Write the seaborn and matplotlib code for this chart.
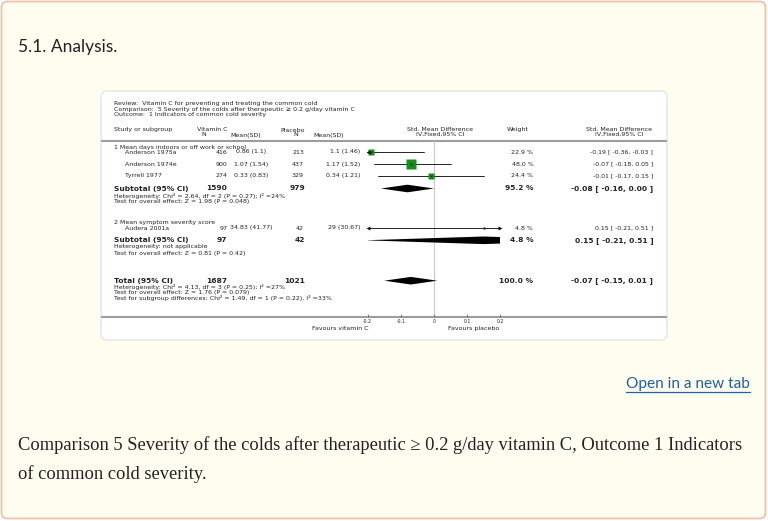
import matplotlib
matplotlib.use('Agg')
import matplotlib.pyplot as plt
from matplotlib.patches import FancyBboxPatch
import seaborn as sns

# study level data
studies = ['Anderson 1975a', 'Anderson 1974e', 'Tyrrell 1977', 'Audera 2001a']
study_group = [0, 0, 0, 1]
vitc_n = [416, 900, 274, 97]
vitc_mean = [0.86, 1.07, 0.33, 34.83]
vitc_sd = [1.1, 1.54, 0.83, 41.77]
plac_n = [213, 437, 329, 42]
plac_mean = [1.1, 1.17, 0.34, 29]
plac_sd = [1.46, 1.52, 1.21, 30.67]
weights = [22.9, 48.0, 24.4, 4.8]
smd = [-0.19, -0.07, -0.01, 0.15]
ci_low = [-0.36, -0.18, -0.17, -0.21]
ci_high = [-0.03, 0.05, 0.15, 0.51]

# subgroups
groups = ['1 Mean days indoors or off work or school', '2 Mean symptom severity score']
group_vitc_n = [1590, 97]
group_plac_n = [979, 42]
group_weight = [95.2, 4.8]
group_smd = [-0.08, 0.15]
group_low = [-0.16, -0.21]
group_high = [0.00, 0.51]
group_het = ['Heterogeneity: Chi\u00b2 = 2.64, df = 2 (P = 0.27); I\u00b2 =24%',
             'Heterogeneity: not applicable']
group_test = ['Test for overall effect: Z = 1.98 (P = 0.048)',
              'Test for overall effect: Z = 0.81 (P = 0.42)']

# overall
total_vitc_n = 1687
total_plac_n = 1021
total_weight = 100.0
total_smd = -0.07
total_low = -0.15
total_high = 0.01
total_notes = ['Heterogeneity: Chi\u00b2 = 4.13, df = 3 (P = 0.25); I\u00b2 =27%',
               'Test for overall effect: Z = 1.76 (P = 0.079)',
               'Test for subgroup differences: Chi\u00b2 = 1.49, df = 1 (P = 0.22), I\u00b2 =33%']

x_ticks = [-0.2, -0.1, 0, 0.1, 0.2]
x_tick_labels = ['-0.2', '-0.1', '0', '0.1', '0.2']

header_lines = ['Review:  Vitamin C for preventing and treating the common cold',
                'Comparison:  5 Severity of the colds after therapeutic \u2265 0.2 g/day vitamin C',
                'Outcome:  1 Indicators of common cold severity']
caption_lines = ['Comparison 5 Severity of the colds after therapeutic \u2265 0.2 g/day vitamin C, Outcome 1 Indicators',
                 'of common cold severity.']

# layout (page pixels)
W, H = 768, 521
study_y = [152, 164.3, 175.8, 228.0]
group_label_y = [147.3, 222.3]
group_y = [188.5, 240.3]
group_het_y = [195.7, 246.8]
group_test_y = [201.2, 253.5]
total_y = 280.7
total_notes_y = [286.7, 292.3, 297.7]
plot_x0, plot_x1 = 367.7, 500.3
plot_top, plot_bottom = 141, 317

FS = 4.5
FS_BOLD = 5.4
TXT = '#222222'
SQUARE_GREEN = '#1a8c1a'


def main():
    sns.set_theme(style='white')
    plt.rcParams['font.family'] = ['DejaVu Sans']
    plt.rcParams['axes.unicode_minus'] = False

    fig = plt.figure(figsize=(W / 100, H / 100), dpi=100, facecolor='white')
    page = fig.add_axes([0, 0, 1, 1])
    page.set_xlim(0, W)
    page.set_ylim(H, 0)
    page.axis('off')

    draw_page(page)
    draw_table(page)

    forest = fig.add_axes([plot_x0 / W, (H - plot_bottom) / H,
                           (plot_x1 - plot_x0) / W, (plot_bottom - plot_top) / H])
    draw_forest(forest)

    fig.savefig('out.png', dpi=100, facecolor='white')


def draw_page(ax):
    ax.add_patch(FancyBboxPatch((1.5, 1.5), W - 4, H - 4,
                                boxstyle='round,pad=0,rounding_size=6',
                                facecolor='#fffdf0', edgecolor='#edc2a8', lw=1.3))
    ax.add_patch(FancyBboxPatch((101, 91), 566, 249,
                                boxstyle='round,pad=0,rounding_size=6',
                                facecolor='white', edgecolor='#e0e0e0', lw=0.8))
    ax.text(18, 47, '5.1. Analysis.', fontsize=12.5, family=['Lato', 'DejaVu Sans'],
            color='#222222', va='center', ha='left')
    ax.text(750, 384, 'Open in a new tab', fontsize=11.1, family=['Lato', 'DejaVu Sans'],
            color='#1e5fa6', va='center', ha='right')
    ax.plot([626, 750], [391.5, 391.5], color='#1e5fa6', lw=0.9)
    for i, line in enumerate(caption_lines):
        ax.text(18, 445 + i * 29, line, fontsize=13.3, family=['Liberation Serif', 'DejaVu Serif'],
                color='#222222', va='center', ha='left')


def draw_table(ax):
    for i, line in enumerate(header_lines):
        ax.text(114, 104 + i * 5.2, line, fontsize=FS, color=TXT, va='center')

    # column headers
    ax.text(114, 129.5, 'Study or subgroup', fontsize=FS, color=TXT, va='center')
    ax.text(212, 129.5, 'Vitamin C', fontsize=FS, color=TXT, va='center', ha='center')
    ax.text(203.5, 134.5, 'N', fontsize=FS, color=TXT, va='center', ha='center')
    ax.text(246, 135, 'Mean(SD)', fontsize=FS, color=TXT, va='center', ha='center')
    ax.text(293, 130, 'Placebo', fontsize=FS, color=TXT, va='center', ha='center')
    ax.text(295.5, 135, 'N', fontsize=FS, color=TXT, va='center', ha='center')
    ax.text(329, 135, 'Mean(SD)', fontsize=FS, color=TXT, va='center', ha='center')
    for cx in (440, 619):
        ax.text(cx, 129.5, 'Std. Mean Difference', fontsize=FS, color=TXT, va='center', ha='center')
        ax.text(cx, 134.3, 'IV,Fixed,95% CI', fontsize=FS, color=TXT, va='center', ha='center')
    ax.text(517.5, 129.5, 'Weight', fontsize=FS, color=TXT, va='center', ha='center')

    ax.plot([101, 667], [plot_top, plot_top], color='#9c9c9c', lw=1.5, solid_capstyle='butt')
    ax.plot([101, 667], [plot_bottom, plot_bottom], color='#9c9c9c', lw=1.5, solid_capstyle='butt')

    # study rows
    for i, name in enumerate(studies):
        y = study_y[i]
        ax.text(125, y, name, fontsize=FS, color=TXT, va='center')
        ax.text(227.3, y, str(vitc_n[i]), fontsize=FS, color=TXT, va='center', ha='right')
        ax.text(251.5, y, f'{vitc_mean[i]:g} ({vitc_sd[i]:g})', fontsize=FS, color=TXT,
                va='center', ha='center')
        ax.text(304, y, str(plac_n[i]), fontsize=FS, color=TXT, va='center', ha='right')
        ax.text(360.5, y, f'{plac_mean[i]:g} ({plac_sd[i]:g})', fontsize=FS, color=TXT,
                va='center', ha='right')
        ax.text(533.3, y, f'{weights[i]:.1f} %', fontsize=FS, color=TXT, va='center', ha='right')
        ax.text(653.3, y, f'{smd[i]:.2f} [ {ci_low[i]:.2f}, {ci_high[i]:.2f} ]', fontsize=FS,
                color=TXT, va='center', ha='right')

    # subgroup rows
    for g, label in enumerate(groups):
        ax.text(114, group_label_y[g], label, fontsize=FS, color=TXT, va='center')
        summary_row(ax, group_y[g], 'Subtotal (95% CI)', group_vitc_n[g], group_plac_n[g],
                    group_weight[g], group_smd[g], group_low[g], group_high[g])
        ax.text(114, group_het_y[g], group_het[g], fontsize=FS, color=TXT, va='center')
        ax.text(114, group_test_y[g], group_test[g], fontsize=FS, color=TXT, va='center')

    summary_row(ax, total_y, 'Total (95% CI)', total_vitc_n, total_plac_n,
                total_weight, total_smd, total_low, total_high)
    for note, y in zip(total_notes, total_notes_y):
        ax.text(114, y, note, fontsize=FS, color=TXT, va='center')

    ax.text(340.5, 328.3, 'Favours vitamin C', fontsize=FS, color=TXT, va='center', ha='center')
    ax.text(474, 328.3, 'Favours placebo', fontsize=FS, color=TXT, va='center', ha='center')


def summary_row(ax, y, label, n1, n2, w, est, lo, hi):
    kw = dict(fontsize=FS_BOLD, color=TXT, va='center', fontweight='bold')
    ax.text(114, y, label, **kw)
    ax.text(227.3, y, str(n1), ha='right', **kw)
    ax.text(305, y, str(n2), ha='right', **kw)
    ax.text(533.3, y, f'{w:.1f} %', ha='right', **kw)
    ax.text(653.3, y, f'{est:.2f} [ {lo:.2f}, {hi:.2f} ]', ha='right', **kw)


def draw_forest(ax):
    ax.set_xlim(x_ticks[0], x_ticks[-1])
    ax.set_ylim(plot_bottom, plot_top)
    ax.set_facecolor('none')
    for side in ax.spines:
        ax.spines[side].set_visible(False)
    ax.axvline(0, color='#c8c8c8', lw=0.8, zorder=0)

    xmin, xmax = ax.get_xlim()
    for i in range(len(studies)):
        y = study_y[i]
        ax.plot([ci_low[i], ci_high[i]], [y, y], color='black', lw=0.6)
        side = 6.5 * (weights[i] / 48.0) ** 0.5
        ax.plot(smd[i], y, marker='s', ms=side, color=SQUARE_GREEN, mec='none')
        ax.plot(smd[i], y, marker='s', ms=1.3, color='#0a3a0a', mec='none')
        if ci_low[i] < xmin:
            ax.plot(xmin, y, marker='<', ms=2.8, color='black', mec='none', clip_on=False)
        if ci_high[i] > xmax:
            ax.plot(xmax, y, marker='>', ms=2.8, color='black', mec='none', clip_on=False)

    diamonds = [(group_y[g], group_smd[g], group_low[g], group_high[g]) for g in range(len(groups))]
    diamonds.append((total_y, total_smd, total_low, total_high))
    for y, est, lo, hi in diamonds:
        ax.fill([lo, est, hi, est], [y, y - 3.8, y, y + 3.8], color='black', lw=0)

    ax.set_xticks(x_ticks)
    ax.set_xticklabels(x_tick_labels)
    ax.set_yticks([])
    ax.tick_params(axis='x', direction='in', length=2, width=0.5, color='#555555',
                   labelsize=3.3, pad=1.5, labelcolor=TXT, bottom=True)


if __name__ == '__main__':
    main()
